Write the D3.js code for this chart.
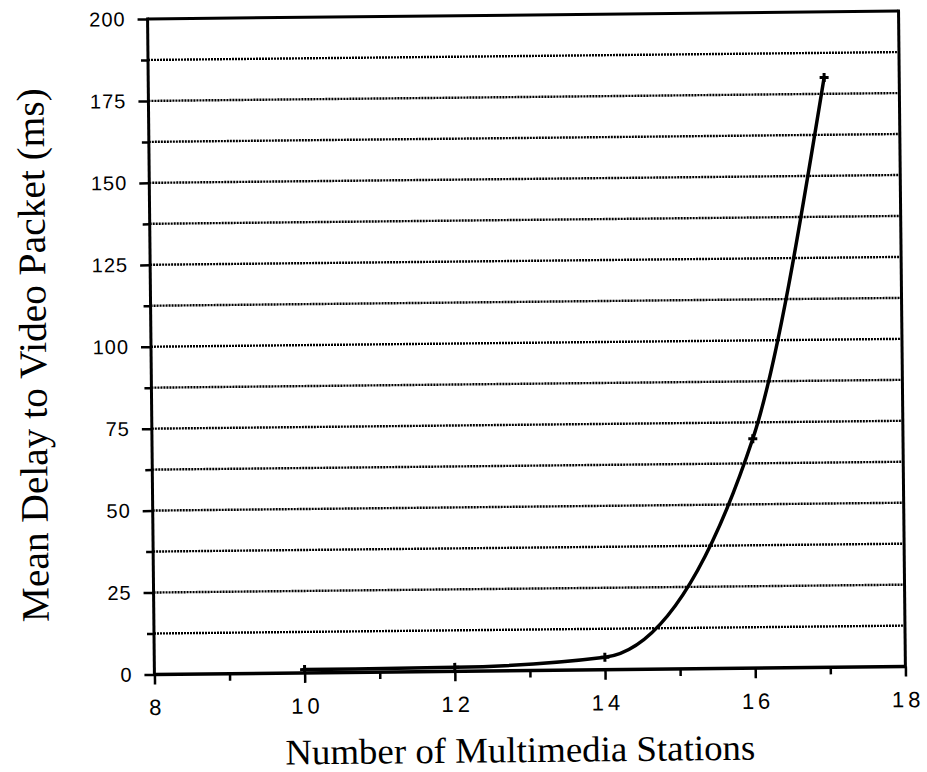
<!DOCTYPE html>
<html>
<head>
<meta charset="utf-8">
<script src="https://cdn.jsdelivr.net/npm/d3@7"></script>
<style>
  html, body { margin: 0; padding: 0; background: #fff; }
  svg { display: block; }
</style>
</head>
<body>
<svg id="chart" width="927" height="772"></svg>
<script>
// Mean video-packet delay versus number of multimedia stations
const stations = [10, 12, 14, 16, 17];
const meanDelay = [1, 1.2, 3.8, 70, 180];

const xTicks = [8, 10, 12, 14, 16, 18];
const xMinorTicks = [9, 11, 13, 15, 17];
const yTicks = [0, 25, 50, 75, 100, 125, 150, 175, 200];
const yMinorTicks = [12.5, 37.5, 62.5, 87.5, 112.5, 137.5, 162.5, 187.5];
const gridValues = [12.5, 25, 37.5, 50, 62.5, 75, 87.5, 100, 112.5, 125, 137.5, 150, 162.5, 175, 187.5];

const xTitle = "Number of Multimedia Stations";
const yTitle = "Mean Delay to Video Packet (ms)";

const svg = d3.select("#chart");
svg.append("rect").attr("width", 927).attr("height", 772).attr("fill", "#fff");

// whole figure sits slightly tilted on the page
const root = svg.append("g").attr("transform", "rotate(-0.6, 530, 345)");

const plotLeft = 151, plotRight = 902, plotTop = 15, plotBottom = 670.5;
const x = d3.scaleLinear().domain([8, 18]).range([plotLeft, plotRight]);
const y = d3.scaleLinear().domain([0, 200]).range([plotBottom, plotTop]);

// dotted horizontal grid
root.append("g")
  .selectAll("line")
  .data(gridValues)
  .join("line")
  .attr("x1", plotLeft).attr("x2", plotRight)
  .attr("y1", d => y(d)).attr("y2", d => y(d))
  .attr("stroke", "#000")
  .attr("stroke-width", 2.4)
  .attr("stroke-dasharray", "2,1");

// y axis: labelled major ticks and unlabelled minor ticks
const yAxis = root.append("g")
  .attr("transform", `translate(${plotLeft},0)`)
  .call(d3.axisLeft(y).tickValues(yTicks).tickSize(10).tickPadding(12));
yAxis.append("g")
  .call(d3.axisLeft(y).tickValues(yMinorTicks).tickSize(7).tickFormat(""));
yAxis.selectAll(".domain").remove();
yAxis.selectAll("line").attr("stroke", "#000").attr("stroke-width", 2.5);
yAxis.selectAll("text")
  .attr("fill", "#000")
  .style("font-family", "'Liberation Sans', Arial, sans-serif")
  .style("font-size", "20px")
  .style("letter-spacing", "1px");

// x axis
const xAxis = root.append("g")
  .attr("transform", `translate(0,${plotBottom})`)
  .call(d3.axisBottom(x).tickValues(xTicks).tickSize(10).tickPadding(15));
xAxis.append("g")
  .call(d3.axisBottom(x).tickValues(xMinorTicks).tickSize(7).tickFormat(""));
xAxis.selectAll(".domain").remove();
xAxis.selectAll("line").attr("stroke", "#000").attr("stroke-width", 2.5);
xAxis.selectAll("text")
  .attr("fill", "#000")
  .attr("dx", "2px")
  .style("font-family", "'Liberation Sans', Arial, sans-serif")
  .style("font-size", "22px")
  .style("letter-spacing", "4px");

// plot frame
const frame = root.append("g").attr("stroke", "#000").attr("fill", "none");
frame.append("line").attr("x1", plotLeft).attr("x2", plotLeft).attr("y1", plotTop - 1.5).attr("y2", plotBottom + 1.5).attr("stroke-width", 3);
frame.append("line").attr("x1", plotRight).attr("x2", plotRight).attr("y1", plotTop - 1.5).attr("y2", plotBottom + 1.5).attr("stroke-width", 3);
frame.append("line").attr("x1", plotLeft).attr("x2", plotRight).attr("y1", plotTop).attr("y2", plotTop).attr("stroke-width", 3);
frame.append("line").attr("x1", plotLeft).attr("x2", plotRight).attr("y1", plotBottom).attr("y2", plotBottom).attr("stroke-width", 3.5);

// delay curve
const pts = stations.map((s, i) => [s, meanDelay[i]]);
root.append("path")
  .datum(pts)
  .attr("fill", "none")
  .attr("stroke", "#000")
  .attr("stroke-width", 3.5)
  .attr("stroke-linejoin", "round")
  .attr("d", d3.line().x(d => x(d[0])).y(d => y(d[1])).curve(d3.curveMonotoneX));

// data markers
root.append("g")
  .selectAll("path")
  .data(pts)
  .join("path")
  .attr("transform", d => `translate(${x(d[0])},${y(d[1])})`)
  .attr("d", d3.symbol().type(d3.symbolCross).size(45))
  .attr("fill", "#000");

// axis titles
root.append("text")
  .attr("x", 516).attr("y", 762)
  .attr("text-anchor", "middle")
  .attr("textLength", 470)
  .attr("lengthAdjust", "spacingAndGlyphs")
  .style("font-family", "'Liberation Serif', 'Times New Roman', serif")
  .style("font-size", "36px")
  .attr("fill", "#000")
  .text(xTitle);

root.append("text")
  .attr("transform", "translate(46,350) rotate(-90)")
  .attr("text-anchor", "middle")
  .attr("textLength", 534)
  .attr("lengthAdjust", "spacingAndGlyphs")
  .style("font-family", "'Liberation Serif', 'Times New Roman', serif")
  .style("font-size", "39px")
  .attr("fill", "#000")
  .text(yTitle);
</script>
</body>
</html>
